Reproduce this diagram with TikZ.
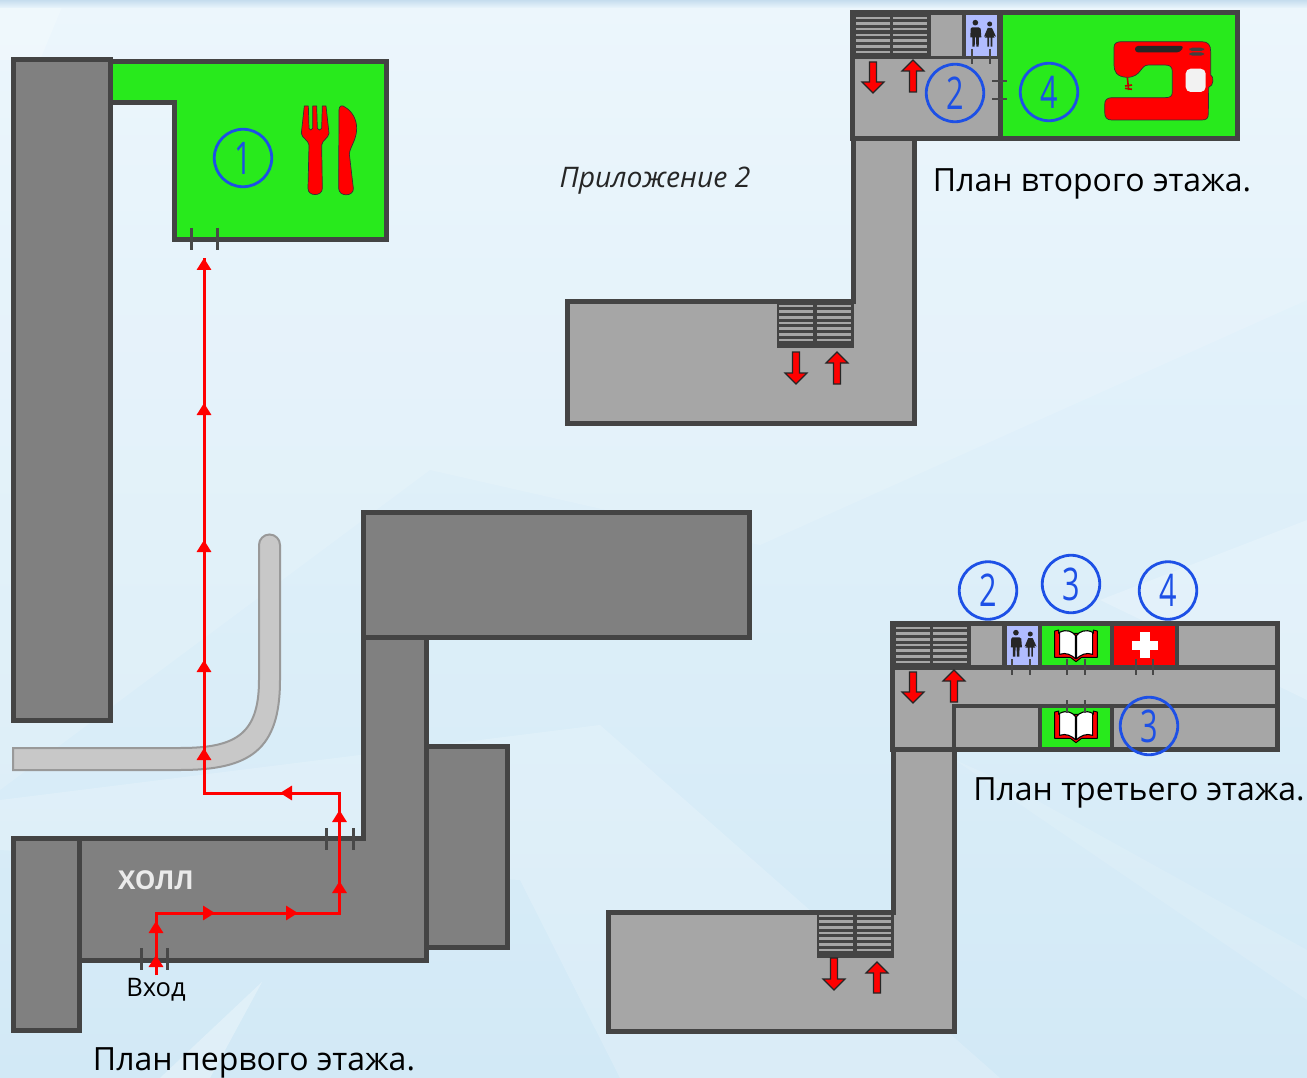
\documentclass[tikz,border=0pt]{standalone}
\usepackage{fontspec}
\setmainfont{Open Sans}
\newfontfamily\narrowfig[FakeStretch=0.68]{Open Sans}
\usetikzlibrary{arrows.meta}
\definecolor{wallc}{HTML}{444444}
\definecolor{hallc}{HTML}{808080}
\definecolor{floorc}{HTML}{A6A6A6}
\definecolor{greenc}{HTML}{28EA1C}
\definecolor{wcc}{HTML}{B0BCFF}
\definecolor{numc}{HTML}{1D50E6}
\definecolor{tubec}{HTML}{C8C8C8}
\definecolor{doorc}{HTML}{484848}
\definecolor{bgtop}{HTML}{E9F5FC}
\definecolor{bgbot}{HTML}{D2E9F6}
\definecolor{bandc}{HTML}{C6DDEE}
\tikzset{
  wall/.style={draw=wallc,line width=5pt,line join=miter},
  hall/.style={wall,fill=hallc},
  floorpoly/.style={wall,fill=floorc},
  greenroom/.style={wall,fill=greenc},
  doortick/.style={draw=doorc,line width=3pt},
  doorthin/.style={draw=doorc,line width=1.6pt},
  numcirc/.style={circle,draw=numc,line width=2.8pt,minimum size=57.5pt,inner sep=0pt,text=numc,font=\narrowfig\fontsize{45}{45}\selectfont},
  redicon/.style={fill=red,draw=black!80,line width=.7pt,line join=round},
  blockarrow/.style={fill=red,draw=black!85,line width=1.1pt,line join=miter},
  routeline/.style={draw=red,line width=3pt,line join=miter},
  route/.style={routeline,-{Triangle[width=14pt,length=12pt]}},
  planlabel/.style={inner sep=0pt,font=\fontsize{32}{32}\selectfont,text=black},
  wcicon/.pic={
    \fill[black!85] (406,68) circle (8.5);
    \fill[black!85] (396,82) -- (416,82) -- (422,86) -- (424,112) -- (417,112) -- (416,140) -- (409,140) -- (408,112) -- (405,112) -- (404,140) -- (397,140) -- (397,112) -- (391,112) -- (392,86) -- cycle;
    \fill[black!85] (449,72) circle (7.5);
    \fill[black!85] (443,84) -- (456,84) -- (468,110) -- (460,106) -- (464,113) -- (457,113) -- (457,140) -- (452,140) -- (452,113) -- (447,113) -- (447,140) -- (442,140) -- (442,113) -- (434,113) -- (440,106) -- (432,110) -- cycle;
  },
  bookicon/.pic={
    \fill[red,draw=black,line width=.9pt,line join=round] (524,243) -- (536,240) -- (536,250) -- (640,250) -- (640,240) -- (652,243) -- (652,322) -- (605,322) -- (588,335) -- (571,322) -- (524,322) -- cycle;
    \fill[white,draw=black,line width=1.1pt,line join=round] (539,247) .. controls (560,236) and (578,245) .. (586,256) -- (586,326) .. controls (575,315) and (558,306) .. (539,313) -- cycle;
    \fill[white,draw=black,line width=1.1pt,line join=round] (638,247) .. controls (617,236) and (598,245) .. (590,256) -- (590,326) .. controls (601,315) and (618,306) .. (638,313) -- cycle;
  }
}
\newcommand{\downarrowblk}[3]{\path[blockarrow] (#1-3.5,#2) -- (#1+3.5,#2) -- (#1+3.5,#3-11) -- (#1+11,#3-11) -- (#1,#3) -- (#1-11,#3-11) -- (#1-3.5,#3-11) -- cycle;}
\newcommand{\uparrowblk}[3]{\path[blockarrow] (#1-3.5,#3) -- (#1+3.5,#3) -- (#1+3.5,#2+11) -- (#1+11,#2+11) -- (#1,#2) -- (#1-11,#2+11) -- (#1-3.5,#2+11) -- cycle;}
\newcommand{\flightblk}[4]{%
  \fill[wallc] (#1-2.5,#3) rectangle (#2+2.5,#4+2.5);
  \foreach \k in {0,...,6}{\fill[floorc] (#1,{#3+0.6+\k*5.7}) rectangle (#2,{#3+3.1+\k*5.7});}
}
\begin{document}
\begin{tikzpicture}[x=1pt,y=-1pt]
\useasboundingbox (0,0) rectangle (1307,1078);
% background
\shade[top color=bgtop,bottom color=bgbot] (0,0) rectangle (1307,1078);
\fill[white,opacity=.22] (0,0) -- (65,0) -- (40,60) -- (0,60) -- cycle;
\fill[white,opacity=.14] (0,0) -- (1307,0) -- (1307,300) -- (760,545) -- (430,470) -- (0,790) -- cycle;
\fill[white,opacity=.18] (0,800) -- (600,725) -- (1000,1078) -- (620,1078) -- (520,880) -- (0,850) -- cycle;
\fill[white,opacity=.2] (1307,520) -- (1100,600) -- (1307,700) -- cycle;
\fill[white,opacity=.3] (160,1078) -- (262,982) -- (210,1078) -- cycle;
\fill[white,opacity=.12] (955,760) -- (1307,1000) -- (1307,950) -- (1000,780) -- cycle;
\shade[top color=bandc,bottom color=bgtop] (0,0) rectangle (1307,8);

% --- plan 1 ---
\draw[greenroom] (110,62) -- (386,62) -- (386,240) -- (174.5,240) -- (174.5,103) -- (110,103);
\draw[hall] (13,60) rectangle (110,720);
\draw[draw=gray!80,fill=tubec,line width=2pt] (13,748) -- (180,748) .. controls (235,748) and (259,735) .. (259,680) -- (259,545) arc[start angle=180,end angle=360,radius=10.5] -- (280,680) .. controls (280,750) and (250,770) .. (180,770) -- (13,770) -- cycle;
\draw[hall] (363.5,512) rectangle (749,637);
\draw[hall] (426,746) rectangle (507,947.5);
\draw[hall] (13,838.5) rectangle (79,1030);
\draw[hall] (79,838.5) -- (363.5,838.5) -- (363.5,637) -- (426,637) -- (426,960) -- (79,960) -- cycle;
\node[font=\bfseries\fontsize{26}{26}\selectfont,text=white!92!black,inner sep=0pt] (hallname) at (156,880) {ХОЛЛ};
\foreach \x in {141,167}{\draw[doortick] (\x,948) -- (\x,970);}
\foreach \x in {326,353}{\draw[doortick] (\x,828) -- (\x,850);}
\foreach \x in {191,217}{\draw[doortick] (\x,228) -- (\x,250);}
% route
\coordinate (r0) at (156,975); \coordinate (r1) at (156,955); \coordinate (r2) at (156,921);
\coordinate (c1) at (156,913); \coordinate (r3) at (215,913); \coordinate (r4) at (298,913);
\coordinate (c2) at (339.5,913); \coordinate (r5) at (339.5,881); \coordinate (r6) at (339.5,810);
\coordinate (c3) at (339.5,793); \coordinate (r7) at (280,793); \coordinate (c4) at (204,793);
\coordinate (r8) at (204,748); \coordinate (r9) at (204,660); \coordinate (r10) at (204,540);
\coordinate (r11) at (204,403); \coordinate (r12) at (204,258);
\draw[routeline] (r0) -- (c1) -- (c2) -- (c3) -- (c4) -- (r12);
\draw[route] (r0) -- (r1);
\draw[route] (r1) -- (r2);
\draw[route] (c1) -- (r3);
\draw[route] (r3) -- (r4);
\draw[route] (c2) -- (r5);
\draw[route] (r5) -- (r6);
\draw[route] (c3) -- (r7);
\draw[route] (c4) -- (r8);
\draw[route] (r8) -- (r9);
\draw[route] (r9) -- (r10);
\draw[route] (r10) -- (r11);
\draw[route] (r11) -- (r12);
\node[inner sep=0pt,font=\fontsize{25.5}{26}\selectfont] (entry) at (156,990) {Вход};
\node[planlabel] (plan1) at (254,1062.5) {План первого этажа.};
\node[numcirc] (n1) at (243,158) {1};
% fork and knife
\begin{scope}[shift={(160,60)},scale=1/3]
\path[redicon] (433,138) -- (445,138) -- (447,205) .. controls (449,212) and (456,212) .. (458,205) -- (458,138) -- (470,138) -- (472,205) .. controls (474,212) and (483,212) .. (485,205) -- (487,138) -- (498,138) -- (507,220) .. controls (505,235) and (487,240) .. (485,255) -- (487,385) .. controls (487,410) and (443,410) .. (444,385) -- (447,255) .. controls (445,240) and (426,235) .. (424,220) -- cycle;
\path[redicon] (537,150) .. controls (537,135) and (548,135) .. (556,142) .. controls (578,155) and (590,180) .. (590,205) .. controls (590,240) and (570,260) .. (568,282) -- (580,385) .. controls (582,410) and (537,412) .. (536,385) -- cycle;
\end{scope}

% --- plan 2 ---
\draw[floorpoly] (853,138) -- (853,301.5) -- (567,301.5) -- (567,423) -- (914,423) -- (914,138);
\draw[floorpoly] (852.5,12.5) rectangle (1001,139);
\draw[greenroom] (1000,12.5) rectangle (1237.5,139);
\fill[wallc] (855,15) rectangle (999,59.5);
\fill[floorc] (931,15.5) rectangle (962,56);
\fill[wcc] (966,15.5) rectangle (997,56);
\flightblk{856}{890}{16}{56}
\flightblk{893}{927}{16}{56}
\flightblk{779}{813}{304}{345}
\flightblk{817}{851}{304}{345}
\pic[shift={(840,0)},scale=1/3] {wcicon};
\foreach \x in {972,990}{\draw[doorthin] (\x,49) -- (\x,64);}
\foreach \y in {81,99}{\draw[doorthin] (992,\y) -- (1007,\y);}
\downarrowblk{873}{62}{93}
\uparrowblk{913}{60}{92}
\downarrowblk{796}{352}{384}
\uparrowblk{837}{352}{384}
\node[numcirc] (n2a) at (955,93) {2};
\node[numcirc] (n4a) at (1049,92) {4};
\begin{scope}[shift={(840,0)},scale=1/3]
\path[redicon] (822,142) .. controls (822,130) and (830,125) .. (845,125) -- (1085,125) .. controls (1105,125) and (1112,135) .. (1112,155) -- (1112,225) .. controls (1122,228) and (1122,258) .. (1106,262) -- (1105,340) .. controls (1105,355) and (1100,360) .. (1085,360) -- (815,360) .. controls (800,360) and (794,352) .. (794,335) -- (794,315) .. controls (794,300) and (800,294) .. (815,293) -- (975,293) .. controls (992,293) and (997,288) .. (997,275) -- (997,215) .. controls (997,200) and (990,195) .. (975,195) -- (925,195) .. controls (900,195) and (905,232) .. (860,232) .. controls (830,230) and (822,215) .. (822,195) -- cycle;
\draw[line width=1.6pt,draw=red!75!black] (862,232) -- (866,270) (855,258) -- (876,255) (855,265) -- (876,268);
\fill[black!85,rounded corners=3pt] (885,138) -- (1032,138) -- (1020,157) -- (885,157) -- cycle;
\fill[black!75,rounded corners=3pt] (1048,143) rectangle (1092,153);
\fill[black!75,rounded corners=3pt] (1048,157) rectangle (1092,167);
\fill[white!95!black,rounded corners=5pt] (1037,206) rectangle (1097,276);
\end{scope}
\node[planlabel] (plan2) at (1092,183.5) {План второго этажа.};
\node[inner sep=0pt,font=\itshape\fontsize{28.3}{28}\selectfont,text=black!85] (app) at (655,180.5) {Приложение 2};

% --- plan 3 ---
\draw[floorpoly] (893,750) -- (893,912) -- (608,912) -- (608,1031.5) -- (954,1031.5) -- (954,750);
\draw[floorpoly] (892,623) rectangle (1277.5,749.5);
\fill[wallc] (893,624) rectangle (1277,669.5);
\fill[wallc] (952,704) rectangle (1277,749);
\fill[floorc] (971,626) rectangle (1002,665);
\fill[wcc] (1007,626) rectangle (1038,665);
\fill[greenc] (1042,626) rectangle (1110,665);
\fill[red] (1114,626) rectangle (1175,665);
\fill[floorc] (1179,626) rectangle (1275,665);
\fill[floorc] (956,708) rectangle (1038,747);
\fill[greenc] (1042,708) rectangle (1110,747);
\fill[floorc] (1114,708) rectangle (1275,747);
\flightblk{896}{930}{626}{666}
\flightblk{933}{967}{626}{666}
\flightblk{819}{853}{914}{955}
\flightblk{857}{891}{914}{955}
\pic[shift={(880.6,610)},scale=1/3] {wcicon};
\pic[shift={(880,550)},scale=1/3] {bookicon};
\pic[shift={(880,631)},scale=1/3] {bookicon};
\fill[white] (1132,641) rectangle (1157.5,650);
\fill[white] (1140,632) rectangle (1149.5,658);
\foreach \x in {1012,1030,1067,1085,1136,1153}{\draw[doorthin] (\x,659) -- (\x,675);}
\foreach \x in {1067,1085}{\draw[doorthin] (\x,700) -- (\x,713);}
\downarrowblk{913}{672}{703}
\uparrowblk{954}{670}{702}
\downarrowblk{834}{958}{990}
\uparrowblk{877}{962}{993}
\node[numcirc] (n2b) at (988,590.5) {2};
\node[numcirc] (n3a) at (1071,584) {3};
\node[numcirc] (n4b) at (1168,590.5) {4};
\node[numcirc] (n3b) at (1149,726) {3};
\node[planlabel] (plan3) at (1139,792.5) {План третьего этажа.};
\end{tikzpicture}
\end{document}
